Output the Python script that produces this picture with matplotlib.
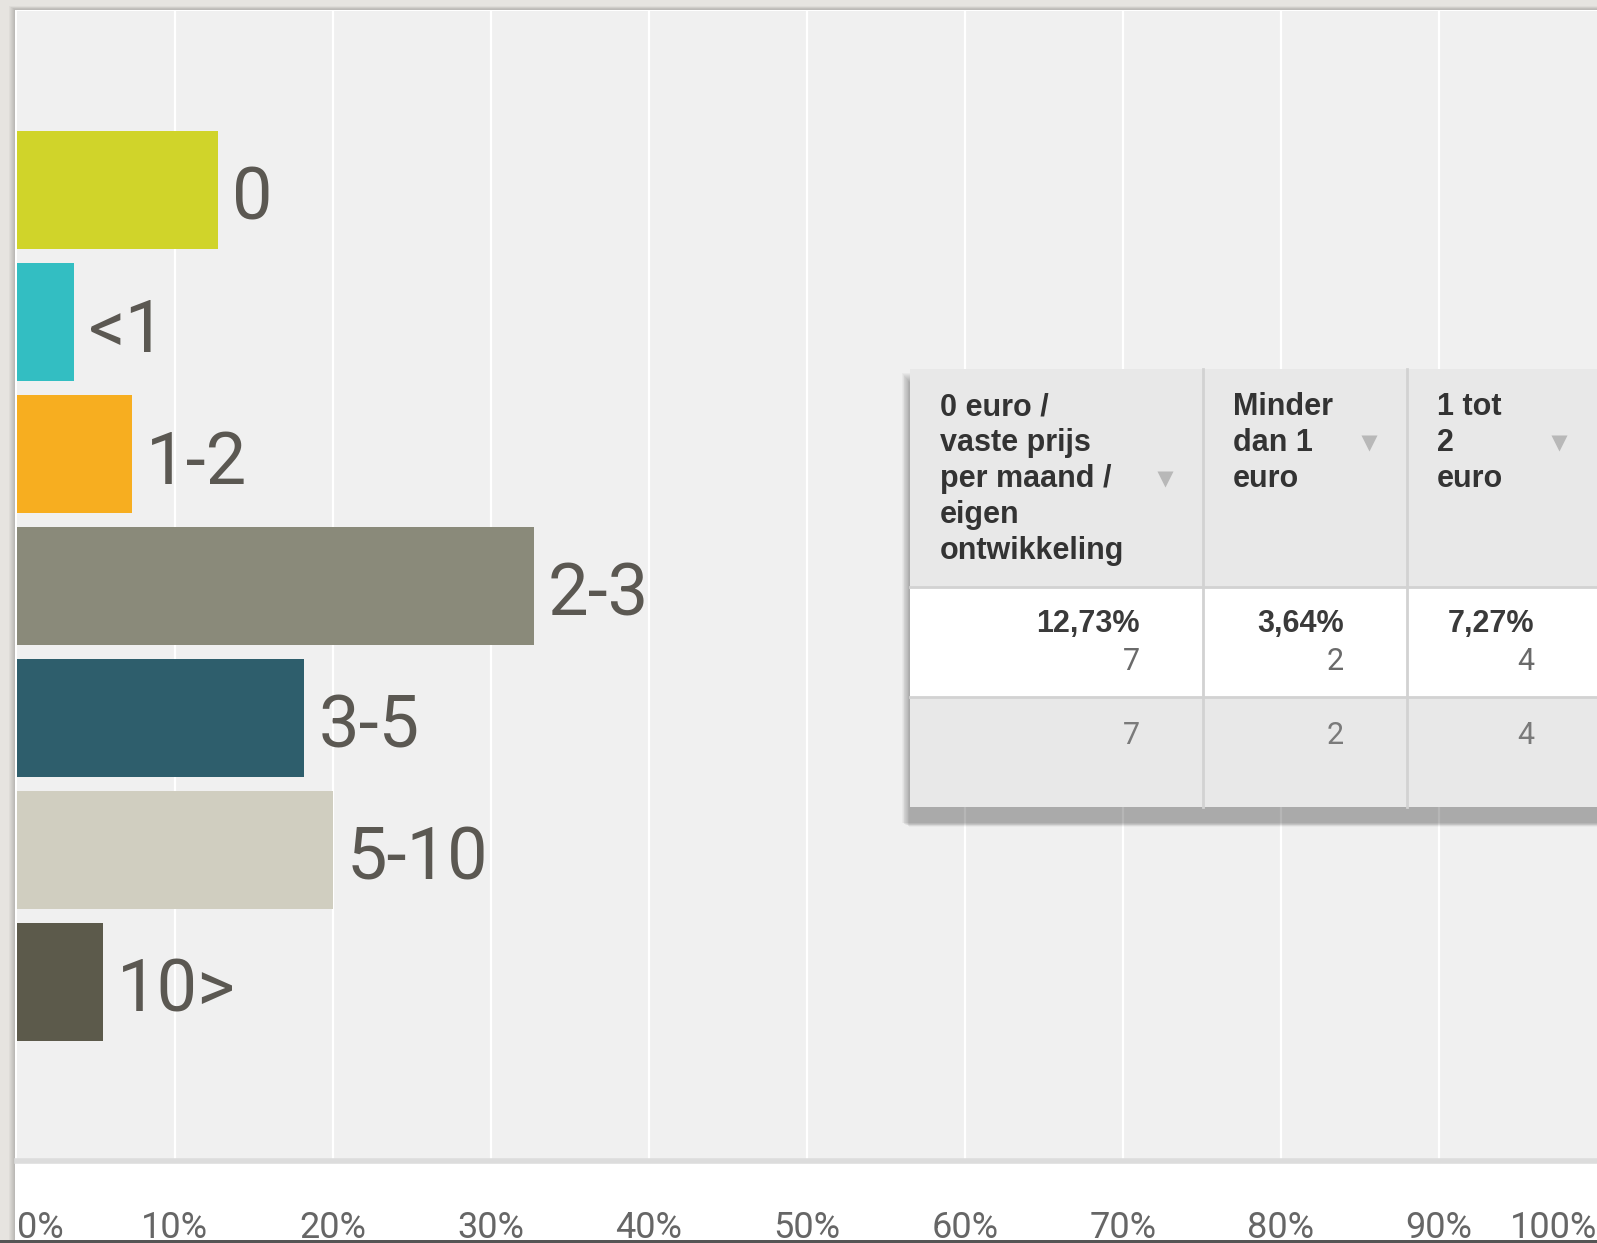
import numpy as np
import matplotlib
matplotlib.use("Agg")
import matplotlib.pyplot as plt
from matplotlib.patches import Rectangle
from matplotlib.transforms import blended_transform_factory

# bar chart data (answers out of 55)
categories = ["0", "<1", "1-2", "2-3", "3-5", "5-10", "10>"]
counts = [7, 2, 4, 18, 10, 11, 3]
colors = ["#d0d42a", "#33bec2", "#f7ae20", "#8a8a7a", "#2e5e6c", "#d0cec0", "#5c5a4b"]
ticks = [0, 10, 20, 30, 40, 50, 60, 70, 80, 90, 100]

# table overlay data
table_headers = ["0 euro /\nvaste prijs\nper maand /\neigen\nontwikkeling",
                 "Minder\ndan 1\neuro",
                 "1 tot\n2\neuro"]
table_counts = counts[:3]

pct = np.array(counts) / sum(counts) * 100

W, H = 1597, 1243
fig = plt.figure(figsize=(W / 100, H / 100), dpi=100)
fig.patch.set_facecolor("#e6e4e0")

# background panel (screenshot look)
bg = fig.add_axes([0, 0, 1, 1], zorder=-1)
bg.set_xlim(0, W)
bg.set_ylim(H, 0)
bg.axis("off")
for k in range(6):
    bg.add_patch(Rectangle((9 + k, 6 + k * 0.6), W, 1240, color="black",
                           alpha=0.03, lw=0))
bg.add_patch(Rectangle((15, 10), W, 1230, color="white", lw=0))
bg.add_patch(Rectangle((0, 1240), W, 3, color="#555555", lw=0))

# main bar chart
ax = fig.add_axes([17 / W, (H - 1161) / H, 1580 / W, 1150 / H])
ax.set_facecolor("#f0f0f0")
y = np.arange(len(categories))
ax.barh(y, pct, height=0.895, color=colors, zorder=3)
ax.set_xlim(0, 100)
ax.set_ylim(7.36, -1.36)
for t in ticks[1:-1]:
    ax.axvline(t, color="white", lw=1.6, zorder=1)
for s in ["top", "right", "left"]:
    ax.spines[s].set_visible(False)
ax.spines["bottom"].set_color("#dcdcdc")
ax.spines["bottom"].set_linewidth(4)
ax.set_xticks([])
ax.set_yticks([])

for i, (cat, v) in enumerate(zip(categories, pct)):
    ax.annotate(cat, (v, i), xytext=(14, -10), textcoords="offset pixels",
                va="center", ha="left", fontsize=52, color="#5b5852",
                family="Roboto", zorder=4)

# x tick labels below the plot
tr = blended_transform_factory(ax.transData, fig.transFigure)
for t in ticks:
    ha = "left" if t == 0 else ("right" if t == 100 else "center")
    ax.text(t, (H - 1238) / H, f"{t}%", transform=tr, ha=ha, va="baseline",
            fontsize=26, color="#666666", family="Roboto", clip_on=False)

# table overlay
ov = fig.add_axes([0, 0, 1, 1], zorder=5)
ov.set_xlim(0, W)
ov.set_ylim(H, 0)
ov.axis("off")

left, top = 910, 369
rows = [369, 587, 697, 807]
cols = [910, 1203, 1407, 1597]

# soft shadow, mostly below the table
for k in range(10):
    ov.add_patch(Rectangle((left - 8 + k * 0.8, top + 4 + k), W,
                           rows[-1] - top + 12 - k * 0.6,
                           color="black", alpha=0.03, lw=0))
ov.add_patch(Rectangle((left, rows[0]), W, rows[1] - rows[0], color="#e8e8e8", lw=0))
ov.add_patch(Rectangle((left, rows[1]), W, rows[2] - rows[1], color="white", lw=0))
ov.add_patch(Rectangle((left, rows[2]), W, rows[3] - rows[2], color="#e8e8e8", lw=0))
for r in rows[1:3]:
    ov.plot([left, W], [r, r], color="#d2d2d2", lw=2)
for c in cols[1:3]:
    ov.plot([c, c], [rows[0], rows[-1]], color="#d2d2d2", lw=2)

for j, head in enumerate(table_headers):
    lines = head.split("\n")
    for k, line in enumerate(lines):
        ov.text(cols[j] + 30, 407 + k * 36, line, va="center", ha="left",
                fontsize=22, fontweight="bold", color="#333333",
                family="Liberation Sans")
    mid = 407 + (len(lines) - 1) * 36 / 2
    ov.plot(cols[j + 1] - 38, mid, marker="v", markersize=11,
            color="#b8b8b8", mec="none")
    xr = cols[j + 1] - 63
    ov.text(xr, 624, f"{pct[j]:.2f}%".replace(".", ","), ha="right", va="center",
            fontsize=22, fontweight="bold", color="#3a3a3a", family="Liberation Sans")
    ov.text(xr, 661, str(table_counts[j]), ha="right", va="center",
            fontsize=22, color="#6a6a6a", family="Roboto")
    ov.text(xr, 735, str(table_counts[j]), ha="right", va="center",
            fontsize=22, color="#7a7a7a", family="Roboto")

fig.savefig("out.png", dpi=100, facecolor=fig.get_facecolor())
